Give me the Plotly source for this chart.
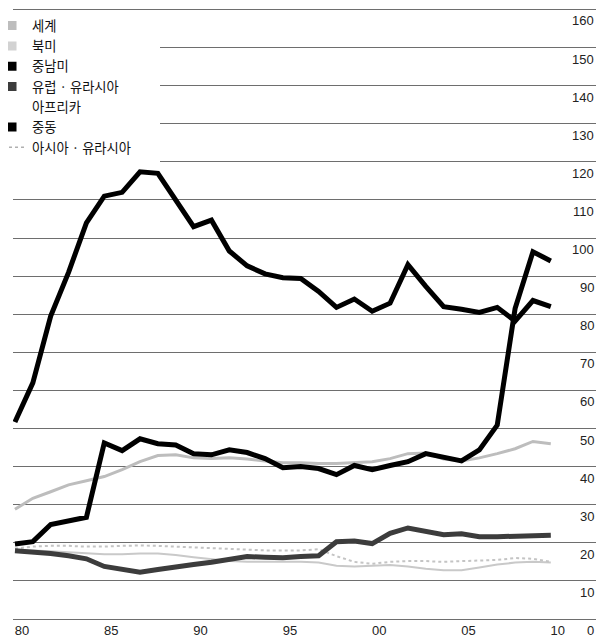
import plotly.graph_objects as go

years = list(range(1980, 2011))

world = [28.8, 31.7, 33.4, 35.2, 36.3, 37.4, 39.2, 41.3, 42.9, 43.1, 42.3, 42.1, 42.3, 42.0,
         41.5, 41.0, 41.0, 40.8, 40.8, 41.0, 41.3, 42.1, 43.4, 43.6, 42.0, 41.5, 42.3, 43.4,
         44.7, 46.6, 46.0]
north_america = [18.0, 18.0, 17.8, 17.5, 17.3, 17.0, 17.0, 17.2, 17.2, 16.8, 16.2, 15.6, 15.2,
                 15.0, 15.0, 15.0, 15.0, 14.8, 14.0, 13.8, 14.0, 14.2, 13.8, 13.2, 12.8, 12.8,
                 13.5, 14.3, 14.8, 15.0, 14.8]
south_central = [19.7, 20.3, 24.8, 25.9, 26.7, 46.2, 44.2, 47.3, 46.0, 45.7, 43.4, 43.1, 44.4,
                 43.7, 42.1, 39.7, 40.0, 39.5, 37.9, 40.3, 39.2, 40.3, 41.3, 43.4, 42.3, 41.5,
                 44.4, 50.9, 81.5, 96.4, 94.0]
europe_eurasia = [17.9, 17.7, 17.2, 16.6, 15.8, 13.8, 13.0, 12.3, 13.0, 13.8, 14.3, 14.9, 15.6,
                  16.4, 16.2, 16.1, 16.4, 16.6, 20.3, 20.5, 19.8, 22.5, 23.9, 23.1, 22.1, 22.4,
                  21.6, 21.6, 21.8, 22.0, 22.0]
middle_east = [51.7, 62.0, 79.5, 91.0, 104.0, 111.0, 112.0, 117.4, 117.0, 110.0, 103.0, 104.7,
               96.6, 92.7, 90.6, 89.6, 89.4, 86.0, 81.8, 84.0, 80.8, 82.9, 93.0, 87.3, 82.0,
               81.3, 80.5, 81.8, 78.2, 83.6, 82.0]
asia = [18.5, 19.0, 19.2, 19.2, 19.0, 19.0, 19.2, 19.3, 19.2, 19.0, 18.8, 18.5, 18.4, 18.2,
        18.0, 18.0, 18.0, 18.3, 16.5, 15.0, 14.5, 15.0, 15.2, 15.2, 15.0, 15.2, 15.3, 15.5,
        16.0, 15.8, 15.0]

x_tickvals = [1980, 1985, 1990, 1995, 2000, 2005, 2010]
x_ticktext = ["80", "85", "90", "95", "00", "05", "10"]
y_tickvals = list(range(0, 161, 10))
y_ticktext = [str(v) for v in y_tickvals]

legend_names = ["세계", "북미", "중남미", "유럽 · 유라시아", "아프리카", "중동", "아시아 · 유라시아"]

fig = go.Figure()

# data lines (drawn from lightest to darkest)
fig.add_trace(go.Scatter(x=years, y=north_america, mode="lines", name=legend_names[1],
                         line=dict(color="#c9c9c9", width=2), showlegend=False))
fig.add_trace(go.Scatter(x=years, y=asia, mode="lines", name=legend_names[6],
                         line=dict(color="#c4c4c4", width=2, dash="dot"), showlegend=False))
fig.add_trace(go.Scatter(x=years, y=world, mode="lines", name=legend_names[0],
                         line=dict(color="#bdbdbd", width=3), showlegend=False))
fig.add_trace(go.Scatter(x=years, y=europe_eurasia, mode="lines", name=legend_names[3],
                         line=dict(color="#3c3c3c", width=5), showlegend=False))
fig.add_trace(go.Scatter(x=years, y=south_central, mode="lines", name=legend_names[2],
                         line=dict(color="#000000", width=5), showlegend=False))
fig.add_trace(go.Scatter(x=years, y=middle_east, mode="lines", name=legend_names[5],
                         line=dict(color="#000000", width=5), showlegend=False))

# legend entries (the last one padded with non-breaking spaces so the white
# legend panel is as wide as in the reference)
legend_colors = ["#bdbdbd", "#d2d2d2", "#000000", "#3c3c3c", "#ffffff", "#000000", None]
for name, col in zip(legend_names, legend_colors):
    if col is None:
        fig.add_trace(go.Scatter(x=[None], y=[None], mode="lines",
                                 name=name + "\u00a0" * 8,
                                 line=dict(color="#b0b0b0", width=1.5, dash="dot")))
    else:
        fig.add_trace(go.Scatter(x=[None], y=[None], mode="markers", name=name,
                                 marker=dict(symbol="square", size=9, color=col)))

# y tick labels, set just below each gridline at the right edge
for v, t in zip(y_tickvals, y_ticktext):
    fig.add_annotation(x=1, xref="paper", y=v, yref="y", text=t, showarrow=False,
                       xanchor="right", yanchor="middle", xshift=0, yshift=-11.5,
                       font=dict(family="Liberation Sans, Arial, sans-serif", size=13,
                                 color="#222222"))

fig.update_layout(
    width=601, height=633,
    margin=dict(l=5, r=13, t=0, b=18, autoexpand=False),
    paper_bgcolor="white", plot_bgcolor="white",
    font=dict(family="Liberation Sans, Arial, sans-serif", size=13, color="#222222"),
    showlegend=True,
    legend=dict(x=-0.036, y=0.996, xanchor="left", yanchor="top",
                bgcolor="white", borderwidth=0,
                font=dict(family="Noto Sans CJK KR", size=13.3, color="#111111"),
                tracegroupgap=0),
)
fig.update_xaxes(range=[1979.89, 2012.53], tickvals=x_tickvals, ticktext=x_ticktext,
                 showgrid=False, zeroline=False, showline=False, ticks="",
                 ticklabelshift=7, ticklabelstandoff=-2)
fig.update_yaxes(range=[-1.05, 160.39], tickvals=y_tickvals, side="right",
                 showgrid=True, gridcolor="#6e6e6e", gridwidth=1,
                 zeroline=False, showline=False, ticks="", showticklabels=False)

fig.write_html("out.html")
